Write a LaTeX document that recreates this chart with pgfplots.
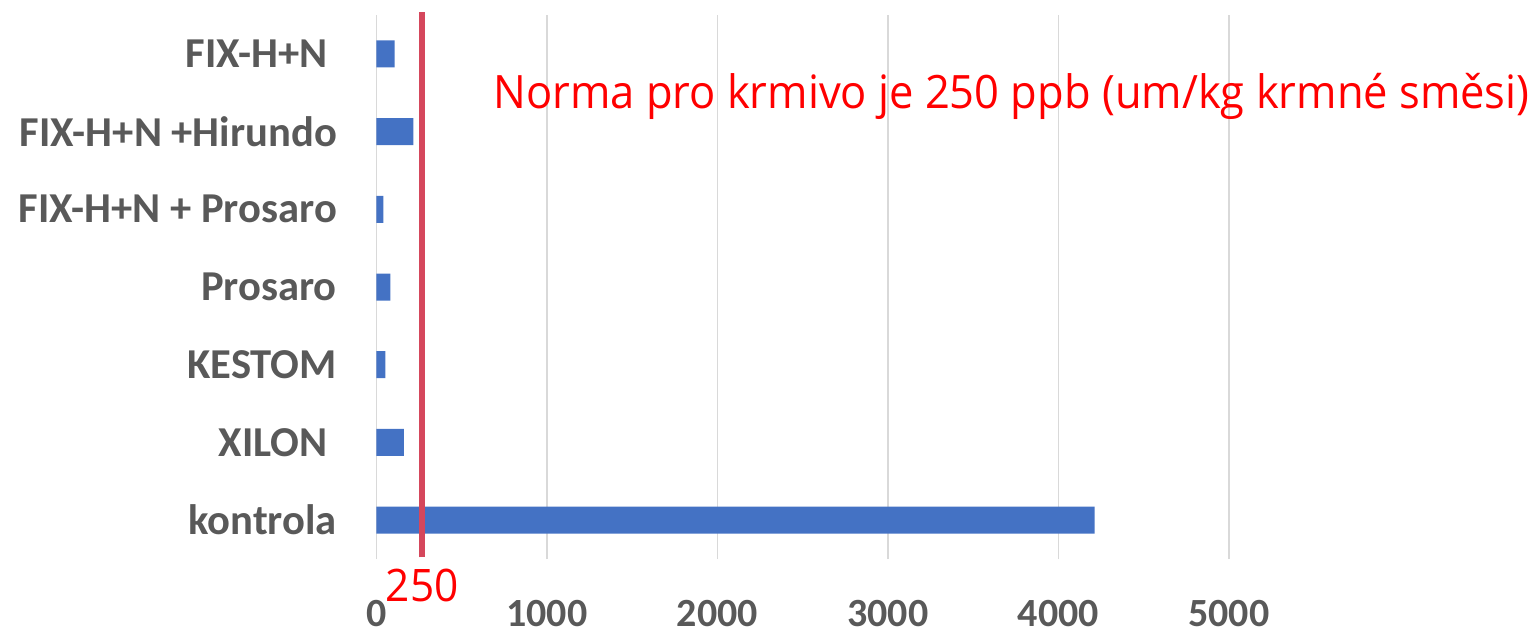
\documentclass[border=0pt]{standalone}
\usepackage{fontspec}
\setmainfont{Carlito}
\newfontfamily\normafont[FakeStretch=0.945]{Open Sans}
\usepackage{pgfplots}
\pgfplotsset{compat=1.18}
\definecolor{barblue}{HTML}{4472C4}
\definecolor{labgray}{HTML}{595959}
\definecolor{gridgray}{HTML}{D9D9D9}
\definecolor{normared}{HTML}{D5475C}

\begin{document}
\begin{tikzpicture}
\useasboundingbox (-188.15pt,-37pt) rectangle (580.85pt,279.5pt);
\begin{axis}[
  at={(0,0)}, anchor=south west,
  scale only axis,
  width=426.3pt, height=272pt,
  bar width=13.5pt,
  xmin=0, xmax=5000,
  ymin=-0.5, ymax=6.5,
  xtick={0,1000,2000,3000,4000,5000},
  xticklabels={0,1000,2000,3000,4000,5000},
  ytick={0,...,6},
  yticklabels={kontrola, XILON\hspace*{4.6pt}, KESTOM, Prosaro, FIX-H+N + Prosaro, FIX-H+N +Hirundo, FIX-H+N\hspace*{4.6pt}},
  major tick length=0pt,
  axis line style={draw=none},
  xmajorgrids,
  grid style={draw=gridgray, line width=0.75pt},
  tick label style={text=labgray, inner sep=0pt},
  xticklabel style={font=\fontsize{20}{24}\selectfont\bfseries, anchor=north, yshift=-20.5pt},
  yticklabel style={font=\fontsize{21.3}{25}\selectfont\bfseries, anchor=east, xshift=-19.5pt},
  clip=false,
]
\addplot[xbar, fill=barblue, draw=none] coordinates {
  (4213,0) (162,1) (53,2) (82,3) (41,4) (217,5) (108,6)
};
\addplot[normared, line width=3pt] coordinates {(270,-0.48) (270,6.54)};
\end{axis}
\node[anchor=base, inner sep=0pt, text=red, font=\normafont\fontsize{22.4}{26}\selectfont] at (23pt,-21.35pt) {250};
\node[anchor=base west, inner sep=0pt, text=red, font=\normafont\fontsize{23}{27}\selectfont] at (58.35pt,225.35pt) {Norma pro krmivo je 250 ppb (um/kg krmné směsi)};
\end{tikzpicture}
\end{document}
